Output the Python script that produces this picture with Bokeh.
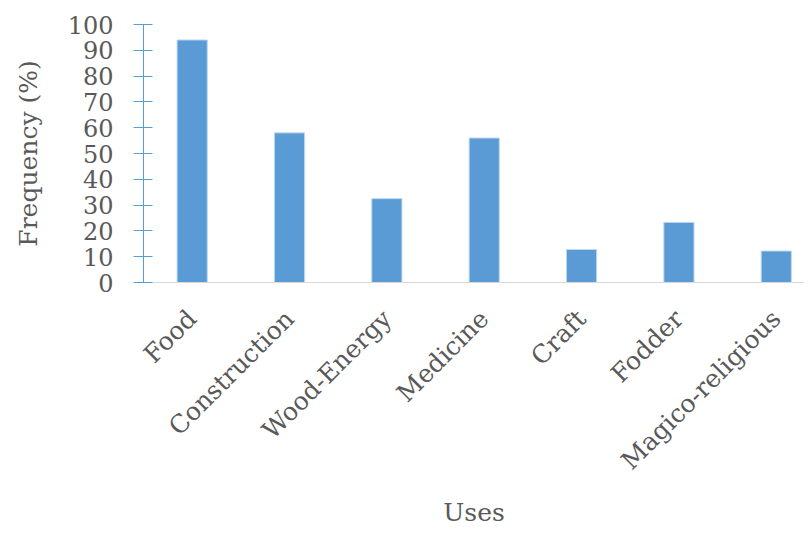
from bokeh.plotting import figure
from bokeh.models import Range1d, FixedTicker
from bokeh.embed import file_html
from bokeh.resources import INLINE
import math

uses = ["Food", "Construction", "Wood-Energy", "Medicine", "Craft", "Fodder", "Magico-religious"]
frequency = [94, 58, 32.5, 56, 12.8, 23.3, 12.2]
y_ticks = [0, 10, 20, 30, 40, 50, 60, 70, 80, 90, 100]
x_title = "Uses"
y_title = "Frequency (%)"

xs = [i + 0.5 for i in range(len(uses))]

FONT = "DejaVu Serif"
GRAY = "#595959"
BLUE = "#5B9BD5"

p = figure(width=804, height=536, output_backend="svg", toolbar_location=None,
           x_range=Range1d(0, 6.79), y_range=Range1d(0, 100),
           min_border_left=143, min_border_right=0, min_border_top=24,
           min_border_bottom=254)
p.outline_line_color = None
p.xgrid.visible = False
p.ygrid.visible = False

p.vbar(x=xs, top=frequency, width=0.31, bottom=0, fill_color=BLUE,
       line_color="#BDD7EE", line_width=1)

p.xaxis.ticker = FixedTicker(ticks=xs)
p.xaxis.major_label_overrides = {x: u for x, u in zip(xs, uses)}
p.xaxis.major_label_orientation = math.pi / 4
p.xaxis.axis_line_color = "#D9D9D9"
p.xaxis.axis_line_width = 1
p.xaxis.major_tick_line_color = None
p.xaxis.minor_tick_line_color = None
p.xaxis.major_label_text_font = FONT
p.xaxis.major_label_text_font_size = "25px"
p.xaxis.major_label_text_color = GRAY
p.xaxis.major_label_standoff = 26
p.xaxis.axis_label = x_title
p.xaxis.axis_label_text_font = FONT
p.xaxis.axis_label_text_font_size = "25px"
p.xaxis.axis_label_text_font_style = "normal"
p.xaxis.axis_label_text_color = GRAY
p.xaxis.axis_label_standoff = 10

p.yaxis.ticker = FixedTicker(ticks=y_ticks)
p.yaxis.axis_line_color = BLUE
p.yaxis.major_tick_line_color = BLUE
p.yaxis.major_tick_in = 9
p.yaxis.major_tick_out = 10
p.yaxis.minor_tick_line_color = None
p.yaxis.major_label_text_font = FONT
p.yaxis.major_label_text_font_size = "24px"
p.yaxis.major_label_text_color = GRAY
p.yaxis.major_label_standoff = 20
p.yaxis.axis_label = y_title
p.yaxis.axis_label_text_font = FONT
p.yaxis.axis_label_text_font_size = "25px"
p.yaxis.axis_label_text_font_style = "normal"
p.yaxis.axis_label_text_color = GRAY
p.yaxis.axis_label_standoff = 22

open("out.html", "w").write(file_html(p, INLINE))
